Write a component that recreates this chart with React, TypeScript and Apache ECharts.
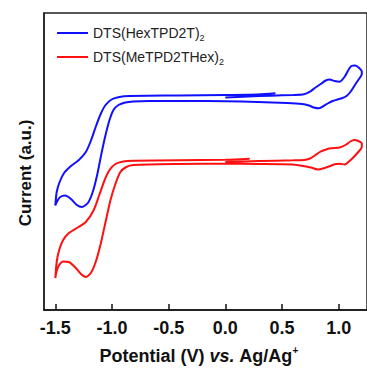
import React, { useEffect, useRef } from "react";
import * as echarts from "echarts";

// Potential (V vs. Ag/Ag+) and current (a.u.) for DTS(HexTPD2T)2
const potentialBlue = [
  0.0, 0.2, 0.4, 0.6, 0.694, 0.747, 0.79, 0.842, 0.886, 0.92, 0.964, 1.008, 1.051, 1.086, 1.111, 1.146, 1.181, 1.204,
  1.204, 1.173, 1.138, 1.103, 1.069, 1.034, 0.99, 0.947, 0.903, 0.86, 0.825, 0.781, 0.738, 0.677, 0.546, 0.285, 0.0,
  -0.325, -0.673, -0.813, -0.882, -0.943, -0.987, -1.022, -1.057, -1.092, -1.131, -1.17, -1.213, -1.266, -1.31,
  -1.362, -1.414, -1.457, -1.483, -1.5,
  -1.488, -1.462, -1.423, -1.362, -1.292, -1.231, -1.187, -1.144, -1.1, -1.057, -1.004, -0.935, -0.848, -0.412,
  0.0, 0.285, 0.442,
];
const currentBlue = [
  212.5, 213.5, 214.3, 215, 215.7, 218.3, 222, 226, 229.5, 230.5, 229, 228.3, 233, 240, 244, 244.5, 242, 238.5,
  236, 230, 224, 218, 214, 212, 210.5, 209, 206.5, 203.5, 201.7, 202.5, 204.5, 206, 207, 208, 208.8,
  209, 209, 208.5, 207.5, 205, 200, 190, 175, 157, 135, 118, 107, 103, 105,
  111, 114.5, 113, 109, 104.5,
  118, 128, 137, 144, 150, 158, 169, 183, 196, 205, 210.5, 213, 214, 214.5,
  215, 215.5, 216.7,
];

// Potential (V vs. Ag/Ag+) and current (a.u.) for DTS(MeTPD2THex)2
const potentialRed = [
  0.0, 0.3, 0.6, 0.694, 0.747, 0.79, 0.834, 0.877, 0.929, 1.008, 1.06, 1.103, 1.138, 1.173, 1.204,
  1.204, 1.173, 1.129, 1.086, 1.054, 1.008, 0.964, 0.92, 0.868, 0.816, 0.755, 0.686, 0.59, 0.285, 0.0,
  -0.412, -0.813, -0.874, -0.926, -0.97, -1.013, -1.057, -1.1, -1.144, -1.187, -1.231, -1.274, -1.327,
  -1.38, -1.431, -1.466, -1.488, -1.5,
  -1.488, -1.466, -1.431, -1.38, -1.31, -1.231, -1.161, -1.109, -1.065, -1.022, -0.97, -0.9, -0.813,
  -0.412, 0.0, 0.215,
];
const currentRed = [
  148, 149, 149.7, 150, 151.5, 154.5, 158, 160, 161.7, 162.5, 165, 168.5, 170, 169, 166.5,
  163, 158, 152.5, 148, 145.5, 146.3, 145.7, 143.7, 141.7, 140.5, 142.5, 144, 145.5, 146, 146.2,
  146, 145, 143, 138, 126, 110, 88, 66, 48, 37, 33, 36, 43,
  48, 48.5, 45, 39, 32,
  48, 60, 70, 77, 82, 88, 100, 116, 130, 140, 146, 148.5, 149.3,
  149.8, 150.2, 151.3,
];

const seriesNames = ["DTS(HexTPD2T)2", "DTS(MeTPD2THex)2"];
const tickValues = [-1.5, -1.0, -0.5, 0.0, 0.5, 1.0];

const zip = (xs: number[], ys: number[]) => xs.map((x, i) => [x, ys[i]]);

export default function App() {
  const ref = useRef<HTMLDivElement>(null);
  useEffect(() => {
    if (!ref.current) return;
    const chart = echarts.init(ref.current, undefined, { renderer: "svg" });
    const font = "Liberation Sans, Arial, sans-serif";
    chart.setOption({
      animation: false,
      backgroundColor: "#fff",
      grid: {
        left: 44,
        top: 13,
        right: -4,
        bottom: 58,
        show: true,
        borderColor: "#222",
        borderWidth: 1.5,
        backgroundColor: "transparent",
      },
      legend: {
        orient: "vertical",
        left: 52,
        top: 21,
        itemWidth: 31,
        itemHeight: 14,
        itemGap: 8,
        icon: "path://M0,6 L31,6 L31,8 L0,8 Z",
        formatter: (name: string) => `{n|${name.slice(0, -1)}}{s|${name.slice(-1)}}`,
        textStyle: {
          fontFamily: font,
          color: "#222",
          rich: {
            n: { fontSize: 14, fontFamily: font, color: "#222" },
            s: { fontSize: 9, fontFamily: font, color: "#222", padding: [9, 0, 0, 0] },
          },
        },
        data: seriesNames,
      },
      xAxis: {
        type: "value",
        min: -1.6,
        max: 1.25,
        axisLine: { show: true, onZero: false, lineStyle: { color: "#111", width: 1.5 } },
        axisTick: {
          show: true,
          inside: true,
          length: 6,
          customValues: tickValues,
          lineStyle: { color: "#111", width: 1.5 },
        },
        axisLabel: {
          customValues: tickValues,
          formatter: (v: number) => v.toFixed(1),
          fontFamily: font,
          fontWeight: "bold",
          fontSize: 18,
          color: "#111",
          margin: 9,
        },
        splitLine: { show: false },
      },
      yAxis: {
        type: "value",
        min: 0,
        max: 297,
        axisLine: { show: true, onZero: false, lineStyle: { color: "#222", width: 1.5 } },
        axisTick: { show: false },
        axisLabel: { show: false },
        splitLine: { show: false },
      },
      graphic: [
        {
          type: "text",
          x: 199,
          y: 356,
          style: {
            text: "{b|Potential (V) }{i|vs.}{b| Ag/Ag}{p|+}",
            align: "center",
            verticalAlign: "middle",
            rich: {
              b: { fontFamily: font, fontWeight: "bold", fontSize: 18, fill: "#111" },
              i: { fontFamily: font, fontWeight: "bold", fontStyle: "italic", fontSize: 18, fill: "#111" },
              p: { fontFamily: font, fontWeight: "bold", fontSize: 10, fill: "#111", padding: [0, 0, 11, 0] },
            },
          },
        },
        {
          type: "text",
          x: 25,
          y: 173,
          rotation: Math.PI / 2,
          style: {
            text: "Current (a.u.)",
            align: "center",
            verticalAlign: "middle",
            fontFamily: font,
            fontWeight: "bold",
            fontSize: 17,
            fill: "#111",
          },
        },
      ],
      series: [
        {
          name: seriesNames[0],
          type: "line",
          data: zip(potentialBlue, currentBlue),
          showSymbol: false,
          symbol: "none",
          smooth: 0.25,
          lineStyle: { color: "#1010ff", width: 2 },
          itemStyle: { color: "#1010ff" },
        },
        {
          name: seriesNames[1],
          type: "line",
          data: zip(potentialRed, currentRed),
          showSymbol: false,
          symbol: "none",
          smooth: 0.25,
          lineStyle: { color: "#ff1010", width: 2 },
          itemStyle: { color: "#ff1010" },
        },
      ],
    });
    return () => chart.dispose();
  }, []);
  return <div ref={ref} style={{ width: 367, height: 368, position: "fixed", left: 0, top: 0 }} />;
}
